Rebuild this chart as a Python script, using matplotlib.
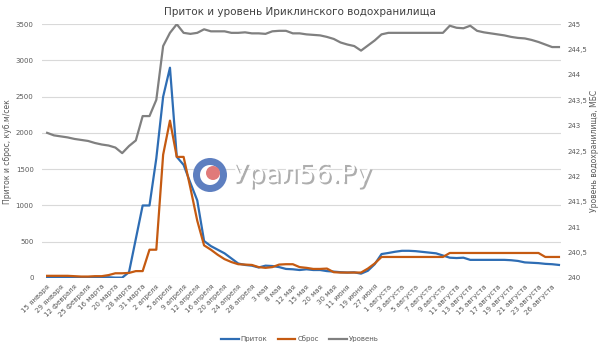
import numpy as np
import matplotlib
matplotlib.use("Agg")
import matplotlib.pyplot as plt
from matplotlib.patches import Ellipse
import matplotlib.patheffects as pe

tick_labels = ["15 января", "29 января", "12 февраля", "25 февраля", "16 марта", "20 марта",
               "28 марта", "31 марта", "2 апреля", "5 апреля", "9 апреля", "12 апреля",
               "16 апреля", "20 апреля", "24 апреля", "28 апреля", "3 мая", "8 мая", "12 мая",
               "15 мая", "20 мая", "30 мая", "11 июня", "19 июня", "27 июня", "1 августа",
               "3 августа", "5 августа", "7 августа", "9 августа", "11 августа", "13 августа",
               "15 августа", "17 августа", "19 августа", "21 августа", "23 августа", "26 августа"]

# приток, куб.м/сек
inflow = [15, 15, 15, 12, 10, 10, 10, 10, 10, 10, 5, 5, 80, 540, 1000, 1000, 1650, 2500, 2900, 1670,
          1560, 1310, 1070, 510, 440, 390, 340, 270, 200, 180, 170, 145, 170, 165, 150, 125, 120, 110,
          120, 110, 110, 95, 88, 80, 75, 78, 60, 100, 190, 330, 345, 362, 375, 375, 370, 360, 350, 340,
          310, 280, 275, 280, 250, 250, 250, 250, 250, 250, 245, 235, 215, 210, 205, 195, 190, 180]

# сброс, куб.м/сек
outflow = [30, 30, 30, 30, 25, 20, 20, 25, 25, 40, 65, 65, 70, 95, 95, 390, 390, 1700, 2170, 1670,
           1670, 1240, 790, 450, 390, 320, 260, 220, 190, 185, 180, 150, 140, 150, 185, 190, 190, 150,
           140, 125, 125, 130, 80, 75, 75, 75, 75, 130, 200, 290, 290, 290, 290, 290, 290, 290, 290, 290,
           290, 345, 345, 345, 345, 345, 345, 345, 345, 345, 345, 345, 345, 345, 345, 290, 290, 290]

# уровень, м БС
level = [242.86, 242.81, 242.79, 242.77, 242.74, 242.72, 242.70, 242.66, 242.63, 242.61, 242.57, 242.46,
         242.60, 242.71, 243.19, 243.19, 243.51, 244.57, 244.83, 245.0, 244.83, 244.81, 244.83, 244.9,
         244.86, 244.86, 244.86, 244.83, 244.83, 244.84, 244.82, 244.82, 244.81, 244.86, 244.87, 244.87,
         244.82, 244.82, 244.80, 244.79, 244.78, 244.75, 244.71, 244.64, 244.60, 244.57, 244.48, 244.58,
         244.68, 244.80, 244.83, 244.83, 244.83, 244.83, 244.83, 244.83, 244.83, 244.83, 244.83, 244.97,
         244.93, 244.92, 244.97, 244.87, 244.84, 244.82, 244.80, 244.78, 244.75, 244.73, 244.72, 244.69,
         244.65, 244.60, 244.55, 244.55]

BLUE = "#2E6DB4"
ORANGE = "#C55A11"
GRAY = "#808080"
TXT = "#595959"

x = np.arange(len(inflow))

fig = plt.figure(figsize=(6, 3.51), dpi=100)
ax = fig.add_axes([0.07, 0.208, 0.865, 0.723])
ax2 = ax.twinx()

l1, = ax.plot(x, inflow, color=BLUE, lw=1.6, label="Приток", zorder=3)
l2, = ax.plot(x, outflow, color=ORANGE, lw=1.6, label="Сброс", zorder=3)
l3, = ax2.plot(x, level, color=GRAY, lw=1.6, label="Уровень")

ax.set_ylim(0, 3500)
ax2.set_ylim(240, 245)
ax.set_xlim(-0.75, 75.3)
ax.set_yticks(np.arange(0, 3501, 500))
ax2.set_yticks(np.arange(240, 245.01, 0.5))
ax2.set_yticklabels([f"{v:g}".replace(".", ",") for v in np.arange(240, 245.01, 0.5)])
ax.grid(axis="y", color="#D9D9D9", lw=0.8)
ax.set_axisbelow(True)

ax.set_xticks(x[::2])
ax.set_xticklabels(tick_labels, rotation=45, ha="right", rotation_mode="anchor")

for a in (ax, ax2):
    for s in a.spines.values():
        s.set_visible(False)
    a.tick_params(length=0, labelsize=5, colors=TXT)
ax.tick_params(axis="y", pad=6)
ax.tick_params(axis="x", pad=4)
ax2.tick_params(axis="y", pad=5)

ax.set_ylabel("Приток и сброс, куб.м/сек", fontsize=5.5, color=TXT)
ax2.set_ylabel("Уровень водохранилища, МБС", fontsize=5.5, color=TXT, rotation=90)
ax.yaxis.set_label_coords(-0.058, 0.5)
ax2.yaxis.set_label_coords(1.056, 0.5)
fig.text(0.5, 0.965, "Приток и уровень Ириклинского водохранилища", ha="center", va="center",
         fontsize=7.5, color="#404040")

fig.legend([l1, l2, l3], ["Приток", "Сброс", "Уровень"], loc="center", bbox_to_anchor=(0.5, 0.035),
           ncol=3, frameon=False, fontsize=5, handlelength=2.5, handletextpad=0.3,
           columnspacing=1.5, labelcolor=TXT)

# водяной знак
cx, cy = 210 / 600, 1 - 175 / 351
def circ(x0, y0, r, color, z):
    return Ellipse((x0, y0), 2 * r / 600, 2 * r / 351, transform=fig.transFigure,
                   facecolor=color, edgecolor="none", zorder=z)
for p in (circ(cx, cy, 17, "#5E7FC0", 5), circ(cx, cy, 10, "white", 6),
          circ(cx + 3 / 600, cy + 2 / 351, 7, "#E07A7A", 7)):
    fig.patches.append(p)
fig.text(232 / 600, cy, "Урал56.Ру", ha="left", va="center", fontsize=19, color="white", zorder=8,
         path_effects=[pe.withSimplePatchShadow(offset=(1.5, -1.5), shadow_rgbFace="#8c8c8c", alpha=0.7)])

fig.savefig("out.png", dpi=100, facecolor="white")
